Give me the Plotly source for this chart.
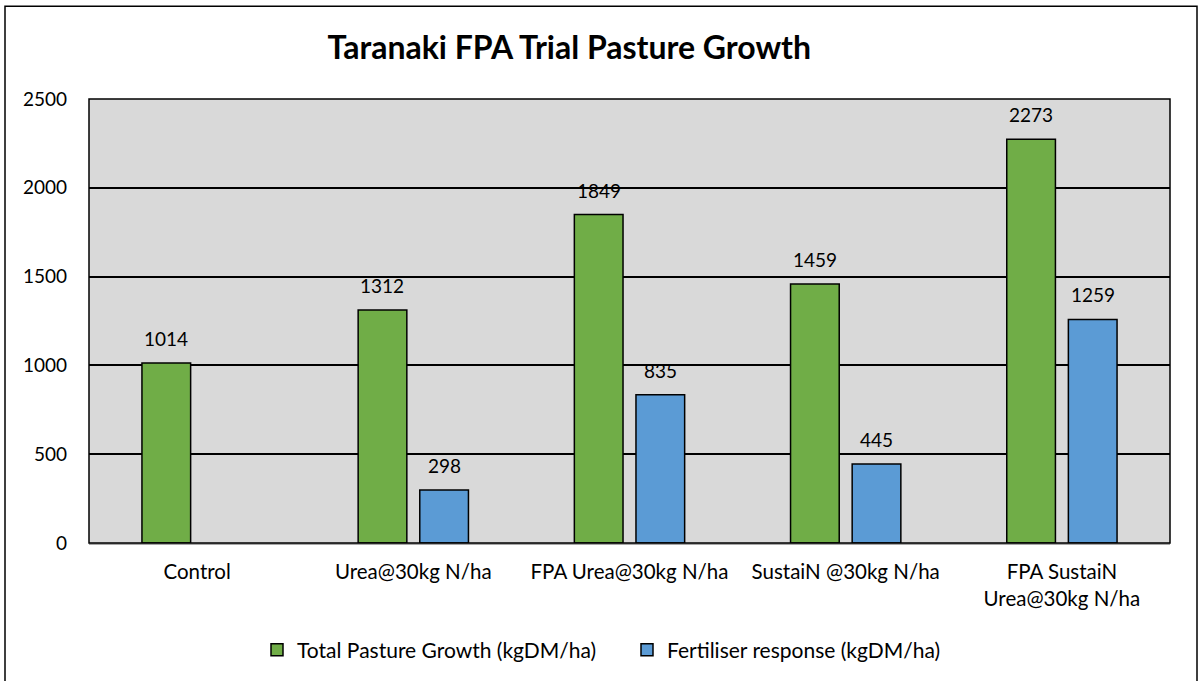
import plotly.graph_objects as go

categories = ["Control", "Urea@30kg N/ha", "FPA Urea@30kg N/ha", "SustaiN @30kg N/ha",
              "FPA SustaiN<br>Urea@30kg N/ha"]
total_growth = [1014, 1312, 1849, 1459, 2273]
fert_response = [None, 298, 835, 445, 1259]
series_names = ["Total Pasture Growth (kgDM/ha)", "Fertiliser response (kgDM/ha)"]
y_ticks = [0, 500, 1000, 1500, 2000, 2500]

FONT = "Lato, Open Sans, sans-serif"
GREEN = "#70ad47"
BLUE = "#5b9bd5"

W, H = 1202, 681
L, R, T, B = 89, 32, 99, 681 - 544
PW = W - L - R
PH = H - T - B

def px_x(x):
    return (x - L) / PW

def px_y(y):
    return (H - B - y) / PH

fig = go.Figure()
fig.add_trace(go.Bar(x=categories, y=total_growth, name=series_names[0],
                     marker=dict(color=GREEN, line=dict(color="black", width=1.5))))
fig.add_trace(go.Bar(x=categories, y=fert_response, name=series_names[1],
                     marker=dict(color=BLUE, line=dict(color="black", width=1.5))))

# data labels
for vals, shift in [(total_growth, -31), (fert_response, 31)]:
    for c, v in zip(categories, vals):
        if v is None:
            continue
        fig.add_annotation(x=c, y=v, xref="x", yref="y", text=str(v), showarrow=False,
                           xshift=shift, yshift=11, yanchor="bottom",
                           font=dict(family=FONT, size=19, color="black"))

# plot area border
fig.add_shape(type="rect", xref="paper", yref="paper", x0=0, x1=1, y0=0, y1=1,
              line=dict(color="black", width=1.5), layer="above")
# outer chart border
fig.add_shape(type="rect", xref="paper", yref="paper", x0=px_x(5), x1=px_x(1197),
              y0=px_y(700), y1=px_y(6), line=dict(color="black", width=1.5), layer="above")

fig.update_layout(
    width=W, height=H,
    margin=dict(l=L, r=R, t=T, b=B),
    paper_bgcolor="white", plot_bgcolor="#d9d9d9",
    barmode="group", bargap=0.43, bargroupgap=0.21,
    title=dict(text="<b>Taranaki FPA Trial Pasture Growth</b>", x=px_x(601), xanchor="center",
               y=1 - 48 / H, yanchor="middle",
               font=dict(family=FONT, size=32, color="black")),
    font=dict(family=FONT, size=19, color="black"),
    legend=dict(orientation="h", x=px_x(627), xanchor="center", y=px_y(650), yanchor="middle",
                font=dict(family=FONT, size=21), itemwidth=30, entrywidth=325,
                bgcolor="rgba(0,0,0,0)"),
    showlegend=True,
)
fig.update_yaxes(range=[0, 2500], tickvals=y_ticks, showgrid=True, gridcolor="black",
                 gridwidth=1.5, zeroline=False, showline=False, ticks="",
                 ticklabelstandoff=21, tickfont=dict(family=FONT, size=19))
fig.update_xaxes(showgrid=False, showline=True, linecolor="#a6a6a6", linewidth=1.5,
                 ticks="", ticklabelstandoff=10, tickfont=dict(family=FONT, size=20.5))

fig.write_html("out.html", config={"displayModeBar": False},
               post_script="document.body.style.margin='0';")
